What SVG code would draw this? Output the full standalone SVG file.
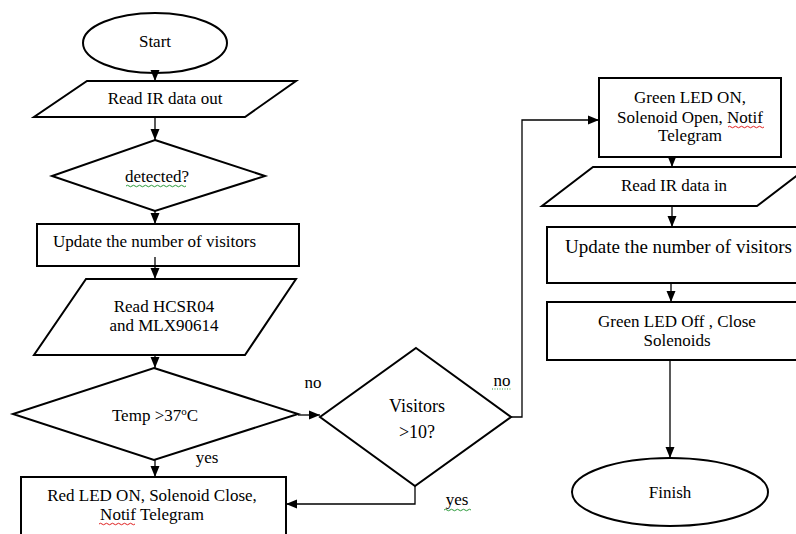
<svg xmlns="http://www.w3.org/2000/svg" width="796" height="534" viewBox="0 0 796 534">
<style>
.s{fill:#fff;stroke:#000;stroke-width:2}
.t{font-family:"Liberation Serif","Times New Roman",serif;font-size:17px;fill:#000;text-anchor:middle}
.c{fill:none;stroke:#000;stroke-width:1.3}
.gw{fill:none;stroke:#2a9a3a;stroke-width:1}
.rw{fill:none;stroke:#e02020;stroke-width:1}
</style>
<defs>
<marker id="ah" markerUnits="userSpaceOnUse" markerWidth="12" markerHeight="12" viewBox="0 0 12 12" refX="11" refY="6" orient="auto">
<path d="M0,1.5 L11,6 L0,10.5 Z" fill="#000"/>
</marker>
</defs>
<rect width="796" height="534" fill="#fff"/>

<g id="start">
<ellipse class="s" cx="155" cy="43" rx="72" ry="30"/>
<text class="t" x="155" y="47">Start</text>
</g>
<g id="read_ir_out">
<polygon class="s" points="87,81 296,81 245,117 34,117"/>
<text class="t" x="165" y="104">Read IR data out</text>
</g>
<g id="detected">
<polygon class="s" points="155,140 265,176 155,211 52,176"/>
<text class="t" x="157" y="182">detected?</text>
<path class="gw" d="M126,186 q1.5,-1.5 3,0 t3,0 t3,0 t3,0 t3,0 t3,0 t3,0 t3,0 t3,0 t3,0 t3,0 t3,0 t3,0 t3,0 t3,0 t3,0 t3,0 t3,0 t3,0 t3,0"/>
</g>
<g id="update_left">
<rect class="s" x="37" y="224" width="262" height="42"/>
<text class="t" x="53" y="247" style="text-anchor:start">Update the number of visitors</text>
</g>
<g id="read_sensors">
<polygon class="s" points="86,279 296,279 245,355 34,355"/>
<text class="t" x="164" y="312">Read HCSR04</text>
<text class="t" x="164" y="331">and MLX90614</text>
</g>
<g id="temp">
<polygon class="s" points="154,368 298,414 154,460 13,414"/>
<text class="t" x="155" y="421">Temp &gt;37<tspan font-size="11" dy="-6">o</tspan><tspan dy="6">C</tspan></text>
</g>
<g id="red_led">
<rect class="s" x="21" y="477" width="265" height="70"/>
<text class="t" x="152" y="501">Red LED ON, Solenoid Close,</text>
<text class="t" x="152" y="520">Notif Telegram</text>
<path class="rw" d="M99,524 q1.5,-1.5 3,0 t3,0 t3,0 t3,0 t3,0 t3,0 t3,0 t3,0 t3,0 t3,0 t3,0 t3,0"/>
</g>
<g id="visitors">
<polygon class="s" points="416,348 511,417 415,486 320,417"/>
<text class="t" x="417" y="412" font-size="18" style="font-size:18px">Visitors</text>
<text class="t" x="417" y="438" style="font-size:18px">&gt;10?</text>
</g>
<g id="green_on">
<rect class="s" x="599" y="78" width="182" height="79"/>
<text class="t" x="690" y="103">Green LED ON,</text>
<text class="t" x="690" y="123">Solenoid Open, Notif</text>
<text class="t" x="690" y="141">Telegram</text>
<path class="rw" d="M728,127 q1.5,-1.5 3,0 t3,0 t3,0 t3,0 t3,0 t3,0 t3,0 t3,0 t3,0 t3,0 t3,0 t3,0"/>
</g>
<g id="read_ir_in">
<polygon class="s" points="593,167 808,167 757,206 542,206"/>
<text class="t" x="674" y="191">Read IR data in</text>
</g>
<g id="update_right">
<rect class="s" x="547" y="227" width="260" height="56"/>
<text class="t" x="565" y="253" style="font-size:19px;text-anchor:start">Update the number of visitors</text>
</g>
<g id="green_off">
<rect class="s" x="547" y="302" width="260" height="58"/>
<text class="t" x="677" y="327">Green LED Off , Close</text>
<text class="t" x="677" y="346">Solenoids</text>
</g>
<g id="finish">
<ellipse class="s" cx="670" cy="492" rx="98" ry="34"/>
<text class="t" x="670" y="498">Finish</text>
</g>

<g id="labels">
<text class="t" x="313" y="388">no</text>
<text class="t" x="207" y="463">yes</text>
<text class="t" x="502" y="386">no</text>
<path d="M492,389 h20" stroke="#2a9a3a" stroke-width="1" stroke-dasharray="1,1.5"/>
<text class="t" x="457" y="505">yes</text>
<path class="gw" d="M444,510 q1.5,-1.5 3,0 t3,0 t3,0 t3,0 t3,0 t3,0 t3,0 t3,0 t3,0"/>
</g>

<g id="connectors">
<path class="c" d="M155,73 V81" marker-end="url(#ah)"/>
<path class="c" d="M155,117 V140" marker-end="url(#ah)"/>
<path class="c" d="M155,211 V224" marker-end="url(#ah)"/>
<path class="c" d="M155,257 V279" marker-end="url(#ah)"/>
<path class="c" d="M155,355 V368" marker-end="url(#ah)"/>
<path class="c" d="M155,460 V477" marker-end="url(#ah)"/>
<path class="c" d="M298,415 H320" marker-end="url(#ah)"/>
<path class="c" d="M415,486 V504 H286" marker-end="url(#ah)"/>
<path class="c" d="M511,417 H522 V120 H599" marker-end="url(#ah)"/>
<path class="c" d="M672,157 V167" marker-end="url(#ah)"/>
<path class="c" d="M672,206 V227" marker-end="url(#ah)"/>
<path class="c" d="M671,283 V302" marker-end="url(#ah)"/>
<path class="c" d="M670,360 V458" marker-end="url(#ah)"/>
</g>
</svg>
